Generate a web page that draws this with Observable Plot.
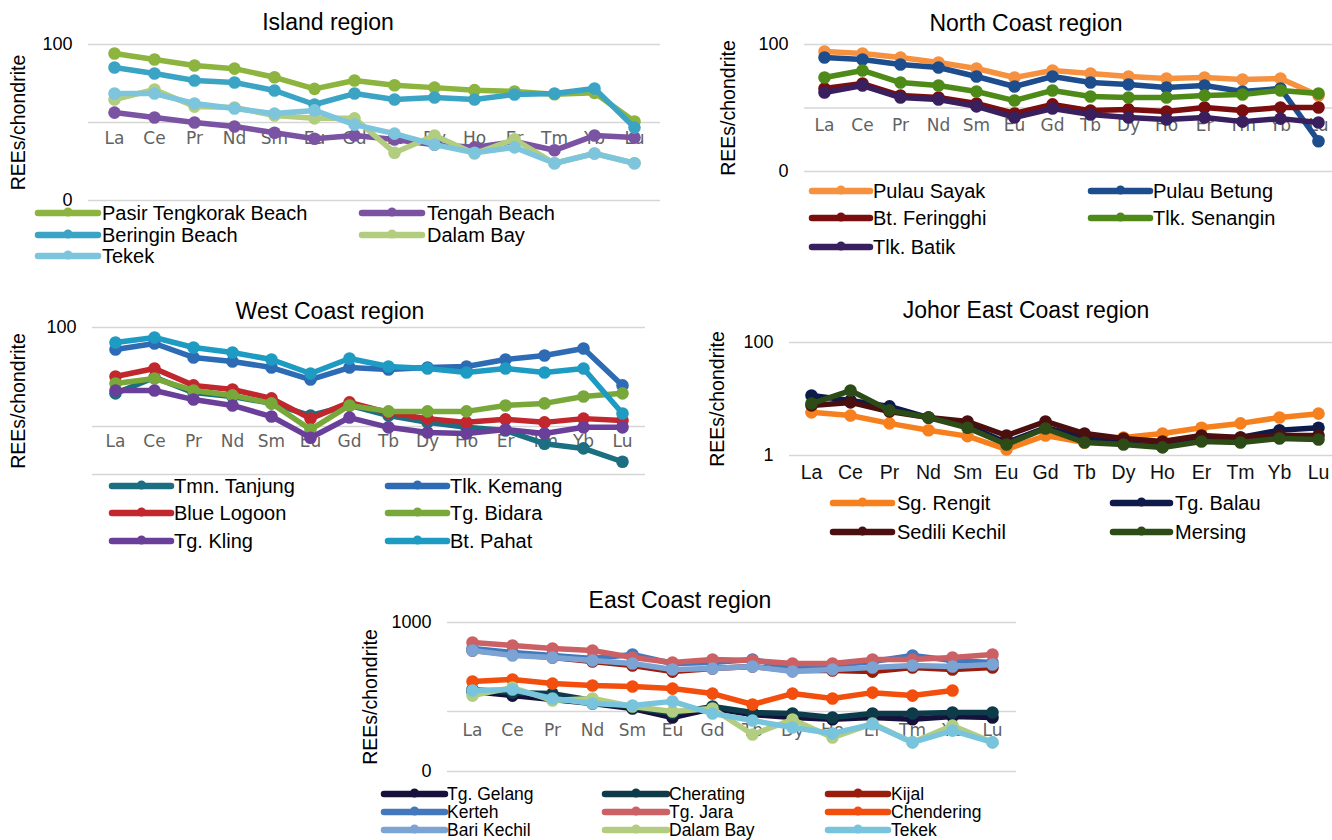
<!DOCTYPE html>
<html>
<head>
<meta charset="utf-8">
<script src="https://cdn.jsdelivr.net/npm/d3@7"></script>
<script src="https://cdn.jsdelivr.net/npm/@observablehq/plot@0.6"></script>
<style>
  html, body { margin: 0; padding: 0; background: #fff; overflow: hidden; }
  #root { position: relative; width: 1332px; height: 840px; overflow: hidden; background: #fff;
          font-family: "Liberation Sans", Arial, sans-serif; color: #000; }
  .abs { position: absolute; }
  .title { font-size: 23px; line-height: 26px; text-align: center; white-space: nowrap; }
  .leg { white-space: nowrap; }
</style>
</head>
<body>
<div id="root"></div>
<script>
// ---------------- data ----------------
const categories = ["La","Ce","Pr","Nd","Sm","Eu","Gd","Tb","Dy","Ho","Er","Tm","Yb","Lu"];

// Island region
const islandNames  = ["Pasir Tengkorak Beach","Tengah Beach","Beringin Beach","Dalam Bay","Tekek"];
const islandColors = ["#8db43f","#7b53a3","#3ba4c4","#b3cd80","#7cc5dd"];
const islandPasir    = [76.7, 64.2, 53.8, 49, 38, 27, 34.5, 30, 28, 26, 25, 23, 24, 10.3];
const islandTengah   = [13.4, 11.6, 10, 8.9, 7.4, 6.2, 6.8, 6.05, 5.2, 4.8, 5.7, 4.4, 6.8, 6.4];
const islandBeringin = [50.7, 42.5, 34.5, 32.6, 25.7, 17, 23.5, 19.7, 20.9, 19.7, 22.9, 23.5, 27.3, 8.6];
const islandDalam    = [19.7, 26.5, 16, 15.6, 12.3, 11.3, 11.3, 4.1, 6.8, 4.0, 6.1, 3.0, 4.0, 3.0];
const islandTekek    = [23.5, 23.5, 17.5, 15.1, 13, 14.3, 9.4, 7.2, 5.2, 4.1, 4.8, 3.0, 4.0, 3.0];
const islandTicks = [1, 10, 100];
const islandTickLabels = ["0", "", "100"];

// North Coast region
const northNames  = ["Pulau Sayak","Pulau Betung","Bt. Feringghi","Tlk. Senangin","Tlk. Batik"];
const northColors = ["#f6913f","#1d4d8c","#7a0d0e","#4e8a18","#3a1f5e"];
const northSayak     = [77.6, 72, 62.4, 52, 41.9, 30.2, 39, 34.9, 31.3, 29.2, 30.2, 28.1, 29.2, 15.7];
const northBetung    = [62.4, 58, 48.4, 43.4, 31.3, 21.8, 31.3, 25.2, 23.5, 21, 22.6, 18.2, 20.3, 3.0];
const northFeringghi = [20.3, 24.3, 15.7, 14.6, 11.8, 8.2, 11.4, 9.1, 9.5, 8.8, 10.2, 9.1, 10.2, 10.2];
const northSenangin  = [30.2, 39, 25.2, 22.6, 18.2, 13.1, 18.9, 15.2, 14.6, 14.6, 15.7, 16.3, 18.9, 16.9];
const northBatik     = [17.5, 22.6, 14.6, 13.6, 10.6, 7.1, 9.8, 7.9, 7.1, 6.6, 7.1, 6.1, 6.8, 5.9];
const northTicks = [1, 10, 100];
const northTickLabels = ["0", "", "100"];

// West Coast region
const westNames  = ["Tmn. Tanjung","Tlk. Kemang","Blue Logoon","Tg. Bidara","Tg. Kling","Bt. Pahat"];
const westColors = ["#1b6f80","#2e6bb5","#c1272d","#79a83a","#6a3f99","#1e9bc3"];
const westTanjung = [21.6, 31.3, 22, 20.1, 17.1, 12.9, 16.3, 12.9, 11, 9.8, 9.1, 6.7, 6.0, 4.4];
const westKemang  = [60, 68.9, 49.8, 45.4, 39.4, 29.8, 39.4, 37.7, 39.4, 40.4, 47.5, 52.1, 61.4, 26];
const westLogoon  = [32, 38.5, 26, 23.6, 19.2, 12, 17.5, 13.8, 12, 11, 11.8, 11, 12, 11.5];
const westBidara  = [27.2, 30.5, 23.1, 20.6, 17.1, 9.3, 16.3, 14.2, 14.2, 14.2, 16.3, 17.1, 20.1, 21.6];
const westKling   = [23.1, 23.1, 18.7, 16.3, 12.6, 7.7, 12.3, 9.8, 8.7, 8.5, 9.3, 8.5, 9.8, 9.8];
const westPahat   = [70.5, 79.3, 62.8, 55.9, 47.5, 34.3, 48.6, 40.4, 38.5, 35.1, 38.5, 35.1, 38.5, 13.5];
const westTicks = [3.27, 10, 100];
const westTickLabels = ["0", "", "100"];

// Johor East Coast region
const johorNames  = ["Sg. Rengit","Tg. Balau","Sedili Kechil","Mersing"];
const johorColors = ["#f7801e","#0e1a4a","#4b0f10","#2c4b16"];
const johorRengit  = [5.8, 5.1, 3.7, 2.8, 2.2, 1.28, 2.26, 1.7, 2.08, 2.45, 3.1, 3.7, 4.7, 5.5];
const johorBalau   = [11.5, 9.4, 7.4, 4.7, 3.4, 1.7, 3.1, 2.08, 1.63, 1.44, 2.08, 2.08, 2.8, 3.1];
const johorSedili  = [7.7, 8.7, 6.0, 4.7, 4.0, 2.26, 4.0, 2.45, 2.0, 1.77, 2.26, 2.08, 2.26, 2.26];
const johorMersing = [8.3, 14.1, 6.3, 4.7, 3.1, 1.57, 3.0, 1.7, 1.57, 1.39, 1.77, 1.7, 2.0, 1.92];
const johorTicks = [1, 100];
const johorTickLabels = ["1", "100"];

// East Coast region
const eastNames  = ["Tg. Gelang","Cherating","Kijal","Kerteh","Tg. Jara","Chendering","Bari Kechil","Dalam Bay","Tekek"];
const eastColors = ["#15113a","#0e3b4a","#9a1c0c","#4378bd","#cc6165","#f24e0d","#7ba3d4","#b3cd80","#78c4dc"];
const eastGelang     = [168, 151, 136, 123, 108, 85.6, 108, 92.5, 85.6, 82, 85.6, 82, 87.9, 85.6];
const eastCherating  = [177, 163, 159, 133, 111, 95, 114, 97.4, 95, 85.6, 95, 95, 97.4, 97.4];
const eastKijal      = [484, 437, 404, 365, 329, 281, 304, 320, 289, 289, 281, 312, 296, 312];
const eastKerteh     = [510, 460, 426, 394, 437, 346, 355, 384, 312, 329, 365, 426, 374, 355];
const eastJara       = [596, 552, 510, 484, 404, 355, 384, 374, 346, 346, 384, 384, 404, 437];
const eastChendering = [217, 229, 206, 196, 191, 181, 159, 120, 159, 140, 163, 151, 172, null];
const eastBari       = [484, 426, 404, 374, 346, 296, 304, 320, 281, 296, 312, 329, 320, 338];
const eastDalam      = [151, 186, 133, 140, 114, 100, 108, 55.2, 81.3, 51, 73.3, 45, 69.6, 45];
const eastTekek      = [172, 177, 140, 123, 117, 130, 95, 79.2, 66.1, 56.6, 72, 45, 61, 45];
const eastTicks = [21.2, 100, 1000];
const eastTickLabels = ["0", "", "1000"];

// ---------------- drawing ----------------
const root = document.getElementById("root");

function addTitle(text, cx, cy) {
  const d = document.createElement("div");
  d.className = "abs title";
  d.textContent = text;
  d.style.left = (cx - 200) + "px";
  d.style.width = "400px";
  d.style.top = (cy - 13) + "px";
  root.appendChild(d);
}

function addLegend(names, colors, cols, rows, fontSize) {
  const lh = Math.round(fontSize);
  names.forEach((name, i) => {
    const c = cols[i % cols.length];
    const yc = rows[Math.floor(i / cols.length)];
    const [x1, x2, tx] = c;
    const w = x2 - x1;
    const ns = "http://www.w3.org/2000/svg";
    const svg = document.createElementNS(ns, "svg");
    svg.setAttribute("width", w + 8);
    svg.setAttribute("height", 16);
    svg.style.position = "absolute";
    svg.style.left = (x1 - 4) + "px";
    svg.style.top = (yc - 8) + "px";
    const ln = document.createElementNS(ns, "line");
    ln.setAttribute("x1", 4); ln.setAttribute("x2", w + 4);
    ln.setAttribute("y1", 8); ln.setAttribute("y2", 8);
    ln.setAttribute("stroke", colors[i]); ln.setAttribute("stroke-width", 6.5);
    ln.setAttribute("stroke-linecap", "round");
    svg.appendChild(ln);
    const ci = document.createElementNS(ns, "circle");
    ci.setAttribute("cx", w / 2 + 4); ci.setAttribute("cy", 7);
    ci.setAttribute("r", 4.5); ci.setAttribute("fill", colors[i]);
    svg.appendChild(ci);
    root.appendChild(svg);
    const t = document.createElement("div");
    t.className = "abs leg";
    t.textContent = name;
    t.style.left = tx + "px";
    t.style.fontSize = fontSize + "px";
    t.style.lineHeight = lh + "px";
    t.style.top = (yc - lh / 2) + "px";
    root.appendChild(t);
  });
}

function addPanel(cfg) {
  const {left, top, width, height, mt, mb, ml, mr, ticks, tickLabels, colors, series,
         labelX, catDy, catFont, catSize, catFill} = cfg;
  const fmt = d => { const i = ticks.indexOf(d); return i >= 0 ? tickLabels[i] : ""; };
  const marks = [
    Plot.gridY(ticks, {stroke: "#d6d6d6", strokeOpacity: 1, strokeWidth: 1.6}),
    Plot.axisY(ticks, {tickSize: 0, tickPadding: 16, tickFormat: fmt, fontSize: 18, fill: "#000", label: null}),
    Plot.text(categories, {x: d => d, text: d => d, frameAnchor: "bottom", dy: catDy,
      fontSize: catSize, fontFamily: catFont, fill: catFill}),
  ];
  series.forEach((vals, i) => {
    const data = categories.map((c, j) => ({c, v: vals[j]})).filter(d => d.v != null);
    marks.push(Plot.line(data, {x: "c", y: "v", stroke: colors[i], strokeWidth: 5.5}));
    marks.push(Plot.dot(data, {x: "c", y: "v", fill: colors[i], r: 6.3}));
  });
  marks.push(Plot.text(["REEs/chondrite"], {frameAnchor: "left", dx: labelX - left - ml, rotate: -90,
    textAnchor: "middle", fontSize: 19.5, fill: "#000"}));
  const svg = Plot.plot({
    width, height, marginTop: mt, marginBottom: mb, marginLeft: ml, marginRight: mr,
    x: {type: "point", domain: categories, padding: 0.5, axis: null},
    y: {type: "log", domain: [ticks[0], ticks[ticks.length - 1]], axis: null},
    style: {fontFamily: '"Liberation Sans", Arial, sans-serif', background: "transparent", overflow: "visible"},
    marks
  });
  svg.style.position = "absolute";
  svg.style.left = left + "px";
  svg.style.top = top + "px";
  root.appendChild(svg);
}

const grayCat = {catFont: '"DejaVu Sans", sans-serif', catSize: 17, catFill: "#626262"};

// Island
addTitle("Island region", 328, 22);
addPanel({left: 0, top: 30, width: 670, height: 190, mt: 14, mb: 20, ml: 88, mr: 10,
  ticks: islandTicks, tickLabels: islandTickLabels, colors: islandColors,
  series: [islandPasir, islandTengah, islandBeringin, islandDalam, islandTekek],
  labelX: 18, catDy: -57, ...grayCat});
addLegend(islandNames, islandColors, [[38, 98, 102], [362, 422, 427]], [213, 235, 256], 20);

// North
addTitle("North Coast region", 1026, 23);
addPanel({left: 700, top: 30, width: 640, height: 150, mt: 14, mb: 9, ml: 104, mr: 3,
  ticks: northTicks, tickLabels: northTickLabels, colors: northColors,
  series: [northSayak, northBetung, northFeringghi, northSenangin, northBatik],
  labelX: 728, catDy: -41, ...grayCat});
addLegend(northNames, northColors, [[812, 870, 873], [1091, 1150, 1153]], [191, 218, 247], 20);

// West
addTitle("West Coast region", 330, 311);
addPanel({left: 0, top: 310, width: 660, height: 175, mt: 17, mb: 11, ml: 92, mr: 15,
  ticks: westTicks, tickLabels: westTickLabels, colors: westColors,
  series: [westTanjung, westKemang, westLogoon, westBidara, westKling, westPahat],
  labelX: 18, catDy: -28, ...grayCat});
addLegend(westNames, westColors, [[112, 171, 174], [388, 447, 450]], [486, 513, 541], 20);

// Johor
addTitle("Johor East Coast region", 1026, 310);
addPanel({left: 700, top: 320, width: 640, height: 150, mt: 22, mb: 15, ml: 89, mr: 1,
  ticks: johorTicks, tickLabels: johorTickLabels, colors: johorColors,
  series: [johorRengit, johorBalau, johorSedili, johorMersing],
  labelX: 717, catDy: 23, catFont: '"Liberation Sans", Arial, sans-serif', catSize: 19.5, catFill: "#111"});
addLegend(johorNames, johorColors, [[833, 892, 897], [1113, 1170, 1175]], [503, 532], 20);

// East
addTitle("East Coast region", 680, 600);
addPanel({left: 350, top: 600, width: 680, height: 180, mt: 22, mb: 9, ml: 97, mr: 14,
  ticks: eastTicks, tickLabels: eastTickLabels, colors: eastColors,
  series: [eastGelang, eastCherating, eastKijal, eastKerteh, eastJara, eastChendering, eastBari, eastDalam, eastTekek],
  labelX: 370, catDy: -36, ...grayCat});
addLegend(eastNames, eastColors, [[384, 445, 447], [605, 667, 669], [828, 888, 891]], [794, 812, 830], 17.5);
</script>
</body>
</html>
